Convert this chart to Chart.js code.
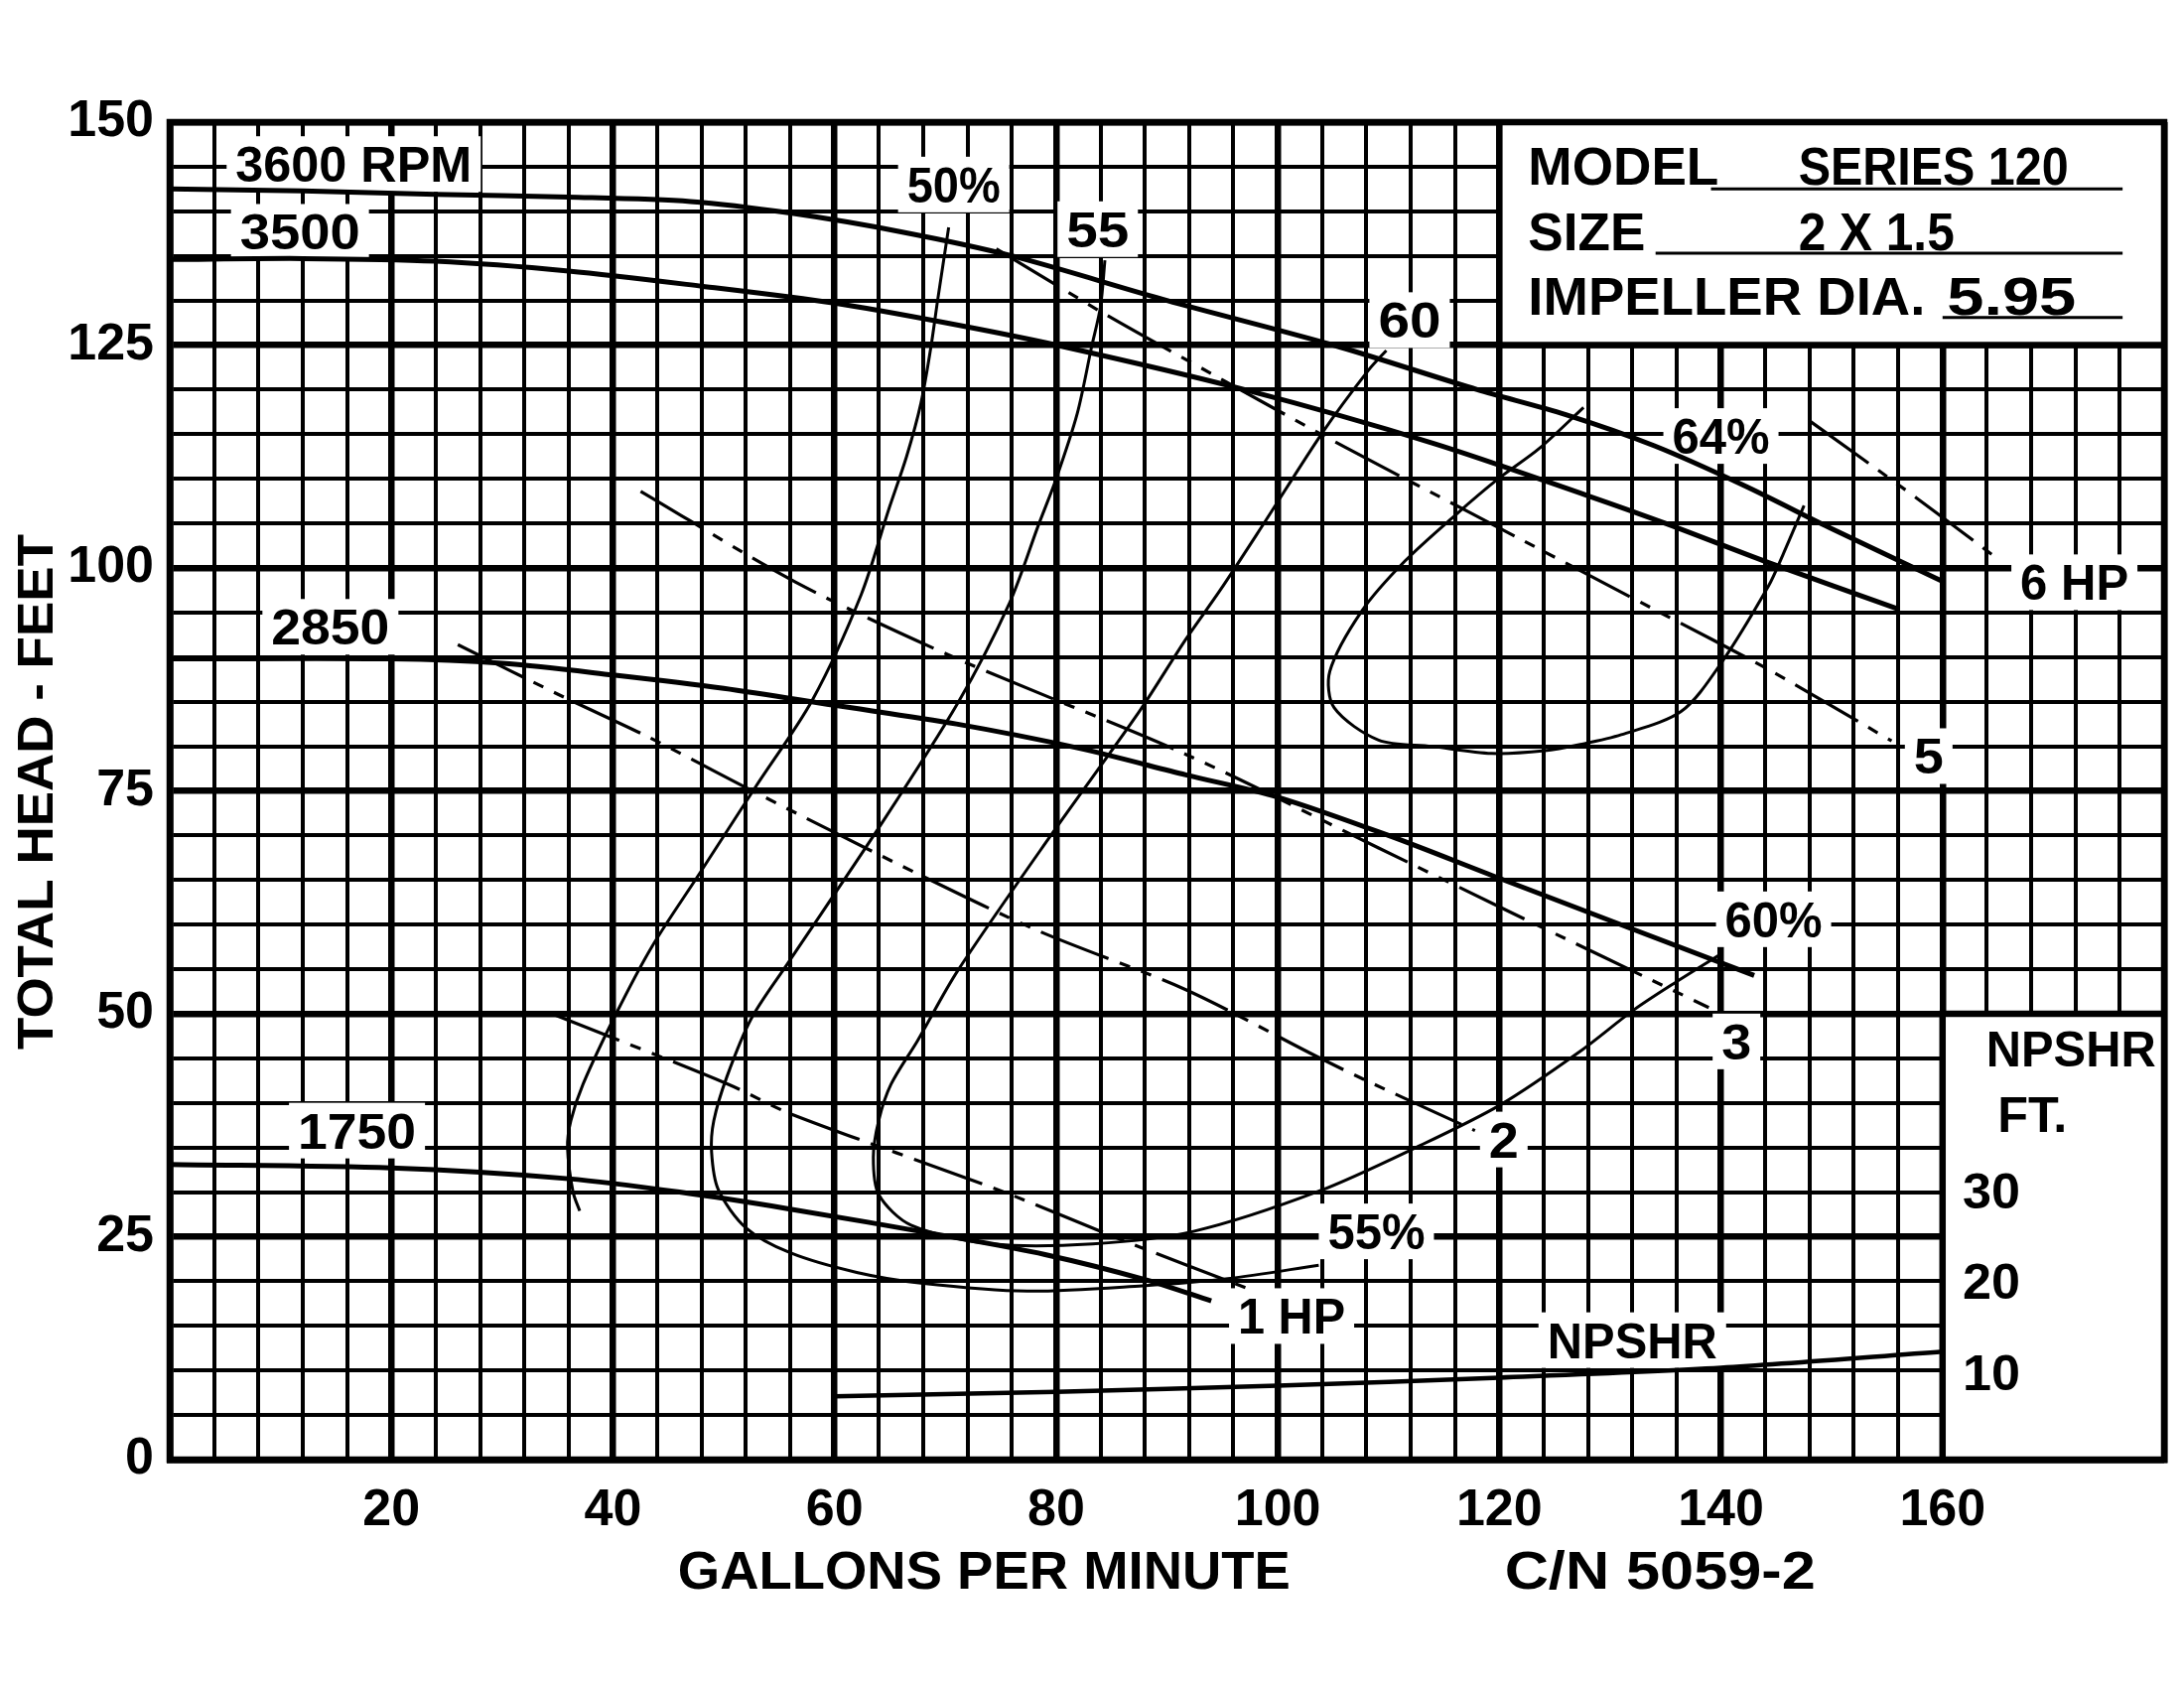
<!DOCTYPE html>
<html>
<head>
<meta charset="utf-8">
<script src="https://cdn.jsdelivr.net/npm/chart.js@4.4.1/dist/chart.umd.min.js"></script>
<style>
  html, body { margin: 0; padding: 0; background: #fff; }
</style>
</head>
<body>
<canvas id="curva" width="2200" height="1700" style="width:2200px;height:1700px"></canvas>
<script>
// curvas: [vazao gpm, altura ft]
var head3600 = [[0,142.5],[12,142.3],[24,141.9],[36,141.6],[47,141.1],[56,139.8],[66,137.7],[76,135],[90,130],[105,125],[118,120],[126,117.2],[134,113.7],[142,109.3],[150,104.4],[160,98.5]];
var head3500 = [[0,134.6],[12,134.7],[24,134.4],[36,133.3],[48,131.6],[60,129.7],[70,127.5],[80,125],[97,120],[114,114],[128,108.1],[135,105],[144.3,100.6],[156,95.4]];
var head2850 = [[0,89.8],[20,89.8],[30,89.3],[40,88],[50,86.5],[60,84.6],[71,82.5],[82,79.8],[91.7,76.8],[100,74.3],[110,70],[120,65.2],[143,54.3]];
var head1750 = [[0,33.1],[20,32.7],[36,31.5],[46,30],[56,28.1],[70,25.1],[79,23],[88,20.2],[94,17.8]];
var npshr = [[60,7.1],[80,7.6],[100,8.3],[120,9.2],[140,10.3],[160,12.1]];

var eff50 = [[70.3,138.2],[69.3,130],[68.7,124.8],[67.8,118.5],[66.5,112.5],[64.9,106.6],[62.4,97],[58,85.2],[52.9,75.5],[47.8,65.7],[43.5,57.5],[40.2,49.8],[37.3,42.1],[36.2,38],[35.9,35],[36.4,30],[37,27.9]];
var eff55 = [[84.4,134.5],[84,129.3],[83.2,124.8],[81.9,117.3],[80,110],[78.4,104.8],[75.8,96.1],[71.1,84.8],[63.8,70.5],[55.8,55.7],[52.5,49.5],[50.3,43],[49.1,38],[48.9,34.5],[49.5,30.3],[52,26],[56,23.2],[62,21],[67.8,19.8],[77.4,18.9],[87.8,19.5],[95.5,20.3],[103.7,21.8]];
var eff60 = [[109.8,124.4],[108.2,122.2],[104.1,115.3],[98.7,104.9],[94.8,97.5],[91.7,92],[87.5,83.9],[79.8,70.5],[71.1,54.8],[67.5,47],[65.1,42.1],[64,38.1],[63.5,33.9],[64,29.7],[66.9,26.3],[74.2,24.2],[83.3,24.2],[92.4,25.6],[103.7,30.1],[112.8,35.2],[120.1,39.8],[127.3,45.8],[132.1,50.4],[136,53.6],[140,56.7]];
var eff64 = [[127.6,118],[123.6,113.4],[119.9,110],[116,105.9],[111.5,100.8],[107.6,95.2],[104.7,88.4],[105.1,84.3],[109.1,80.7],[113.9,80],[119.3,79.2],[124.1,79.5],[127.3,80.2],[131,81.3],[136.4,83.9],[140,89.3],[144.3,98],[145.6,101.5],[147.5,107]];

var hp1 = [[34.5,50],[50.4,42.1],[56,38.8],[75.1,30.1],[86,24.6],[97.5,19.1]];
var hp2 = [[26,91.4],[35.6,85.5],[43.1,81.1],[52.9,74.8],[67.5,65.7],[78.4,59.3],[91.7,52.7],[103.7,45.1],[108.7,42.1],[117.8,36.9]];
var hp3 = [[42.5,108.6],[56.5,98.4],[71.1,89.8],[91.7,79.1],[109.1,68.6],[120,62],[138.9,50.7]];
var hp5 = [[74.6,135.8],[84.5,128.4],[94,121.8],[106,113.6],[117.2,106.3],[133.9,95.4],[144.3,88.6],[155.4,80.6]];
var hp6 = [[148,116.5],[157.7,107.8],[165,101]];

var xTicks = [20, 40, 60, 80, 100, 120, 140, 160];
var yTicks = [0, 25, 50, 75, 100, 125, 150];

var FONTE = '"Liberation Sans", Arial, Helvetica, sans-serif';

// rotulos: texto, gpm, ft (centro), largura em px
var rotulos = [
  ['3600 RPM', 16.6, 145.3, 238],
  ['3500', 11.75, 137.7, 121],
  ['2850', 14.5, 93.4, 119],
  ['1750', 16.9, 36.9, 119],
  ['50%', 70.75, 143, 94],
  ['55', 83.75, 138, 63],
  ['60', 111.9, 127.8, 63],
  ['64%', 140, 114.8, 98],
  ['6 HP', 171.9, 98.4, 109],
  ['5', 158.75, 78.9, 30],
  ['60%', 144.75, 60.6, 98],
  ['3', 141.4, 46.9, 30],
  ['2', 120.4, 35.9, 30],
  ['55%', 108.9, 25.6, 98],
  ['1 HP', 101.25, 16.1, 108],
  ['NPSHR', 132, 13.4, 171]
];
// textos sem fundo (caixas da direita)
var textosCaixa = [
  ['NPSHR', 171.6, 46.1, 171],
  ['FT.', 168.1, 38.75, 70],
  ['30', 164.4, 30.2, 58],
  ['20', 164.4, 20, 58],
  ['10', 164.4, 9.8, 58]
];
// texto alinhado a esquerda: texto, gpm esquerda, ft linha de base, largura
var ficha = [
  ['MODEL', 122.6, 143, 192],
  ['SERIES 120', 147, 143, 272],
  ['SIZE', 122.6, 135.6, 118],
  ['2 X 1.5', 147, 135.6, 157],
  ['IMPELLER DIA.', 122.6, 128.4, 400],
  ['5.95', 160.4, 128.4, 130]
];
var sublinhas = [[139.1, 176.25, 142.5], [134.1, 176.25, 135.3], [160, 176.25, 128.1]];

function pares(lista) {
  return lista.map(function(p) { return {x: p[0], y: p[1]}; });
}

function escreve(ctx, txt, cx, cy, tam, larg, fundo) {
  ctx.save();
  ctx.font = 'bold ' + tam + 'px ' + FONTE;
  var m = ctx.measureText(txt).width;
  var sx = larg ? larg / m : 1;
  var w = m * sx, h = tam * 0.72;
  if (fundo) {
    ctx.fillStyle = '#fff';
    ctx.fillRect(cx - w / 2 - 9, cy - h / 2 - 10, w + 18, h + 20);
  }
  ctx.translate(cx, cy + h / 2);
  ctx.scale(sx, 1);
  ctx.fillStyle = '#000';
  ctx.textAlign = 'center';
  ctx.textBaseline = 'alphabetic';
  ctx.fillText(txt, 0, 0);
  ctx.restore();
}

function escreveEsq(ctx, txt, x0, base, tam, larg) {
  ctx.save();
  ctx.font = 'bold ' + tam + 'px ' + FONTE;
  var m = ctx.measureText(txt).width;
  ctx.translate(x0, base);
  ctx.scale(larg / m, 1);
  ctx.fillStyle = '#000';
  ctx.textAlign = 'left';
  ctx.textBaseline = 'alphabetic';
  ctx.fillText(txt, 0, 0);
  ctx.restore();
}

//Caixas brancas, bordas e textos
var painel = {
  id: 'painel',
  beforeDatasetsDraw: function(chart) {
    var ctx = chart.ctx, a = chart.chartArea;
    var sx = chart.scales.x, sy = chart.scales.y;
    var px = function(v) { return sx.getPixelForValue(v); };
    var py = function(v) { return sy.getPixelForValue(v); };
    ctx.save();
    ctx.fillStyle = '#fff';
    ctx.fillRect(px(120), a.top, a.right - px(120), py(125) - a.top);
    ctx.fillRect(px(160), py(50), a.right - px(160), a.bottom - py(50));
    ctx.strokeStyle = '#000';
    ctx.lineWidth = 6.5;
    ctx.beginPath();
    ctx.moveTo(px(120), a.top); ctx.lineTo(px(120), py(125)); ctx.lineTo(a.right, py(125));
    ctx.moveTo(px(160), a.bottom); ctx.lineTo(px(160), py(50)); ctx.lineTo(a.right, py(50));
    ctx.stroke();
    ctx.strokeRect(a.left, a.top, a.right - a.left, a.bottom - a.top);

    ctx.lineWidth = 3;
    ctx.beginPath();
    sublinhas.forEach(function(s) {
      ctx.moveTo(px(s[0]), py(s[2])); ctx.lineTo(px(s[1]), py(s[2]));
    });
    ctx.stroke();
    ctx.restore();

    ficha.forEach(function(t) { escreveEsq(ctx, t[0], px(t[1]), py(t[2]), 54, t[3]); });
    textosCaixa.forEach(function(t) { escreve(ctx, t[0], px(t[1]), py(t[2]), 50, t[3], false); });
    rotulos.forEach(function(t) { escreve(ctx, t[0], px(t[1]), py(t[2]), 50, t[3], true); });
  },
  afterDraw: function(chart) {
    var ctx = chart.ctx, a = chart.chartArea;
    var sx = chart.scales.x;
    // titulos dos eixos
    escreve(ctx, 'GALLONS PER MINUTE', sx.getPixelForValue(73.5), a.bottom + 111, 54, 617, false);
    escreve(ctx, 'C/N 5059-2', sx.getPixelForValue(134.5), a.bottom + 111, 54, 313, false);
    ctx.save();
    ctx.translate(35, (a.top + a.bottom) / 2 + 1);
    ctx.rotate(-Math.PI / 2);
    escreve(ctx, 'TOTAL HEAD - FEET', 0, 0, 50, 519, false);
    ctx.restore();
  }
};

function curva(lista, largura, tracejado) {
  return {
    data: pares(lista),
    showLine: true,
    borderColor: '#000',
    borderWidth: largura,
    borderDash: tracejado ? [73, 12, 11, 12, 11, 12] : [],
    pointRadius: 0,
    fill: false,
    tension: 0.3
  };
}

var config = {
  type: 'scatter',
  data: {
    datasets: [
      curva(head3600, 5, false),
      curva(head3500, 5, false),
      curva(head2850, 5, false),
      curva(head1750, 5, false),
      curva(npshr, 4.5, false),
      curva(eff50, 3, false),
      curva(eff55, 3, false),
      curva(eff60, 3, false),
      curva(eff64, 3, false),
      curva(hp1, 3.2, true),
      curva(hp2, 3.2, true),
      curva(hp3, 3.2, true),
      curva(hp5, 3.2, true),
      curva(hp6, 3.2, true)
    ]
  },
  options: {
    responsive: false,
    animation: false,
    devicePixelRatio: 1,
    layout: { padding: { top: 123, right: 9, left: 0, bottom: 0 } },
    plugins: { legend: { display: false }, tooltip: { enabled: false } },
    scales: {
      x: {
        type: 'linear', min: 0, max: 180,
        afterFit: function(s) { s.height = 230; },
        border: { display: true, width: 6.5, color: '#000' },
        grid: {
          color: '#000',
          drawTicks: false,
          lineWidth: function(c) { return c.tick && c.tick.value % 20 === 0 ? 6.5 : 4; }
        },
        ticks: {
          stepSize: 4, autoSkip: false, maxRotation: 0, padding: 20, color: '#000',
          font: { family: FONTE, size: 52, weight: 'bold' },
          callback: function(v) { return xTicks.indexOf(v) >= 0 ? String(v) : ''; }
        }
      },
      y: {
        type: 'linear', min: 0, max: 150,
        afterFit: function(s) { s.width = 171; },
        border: { display: true, width: 6.5, color: '#000' },
        grid: {
          color: '#000',
          drawTicks: false,
          lineWidth: function(c) { return c.tick && c.tick.value % 25 === 0 ? 6.5 : 4; }
        },
        ticks: {
          stepSize: 5, autoSkip: false, padding: 16, color: '#000',
          font: { family: FONTE, size: 52, weight: 'bold' },
          callback: function(v) { return yTicks.indexOf(v) >= 0 ? String(v) : ''; }
        }
      }
    }
  },
  plugins: [painel]
};

window.onload = function() {
  var ctx = document.getElementById('curva').getContext('2d');
  window.grafico = new Chart(ctx, config);
};
</script>
</body>
</html>
